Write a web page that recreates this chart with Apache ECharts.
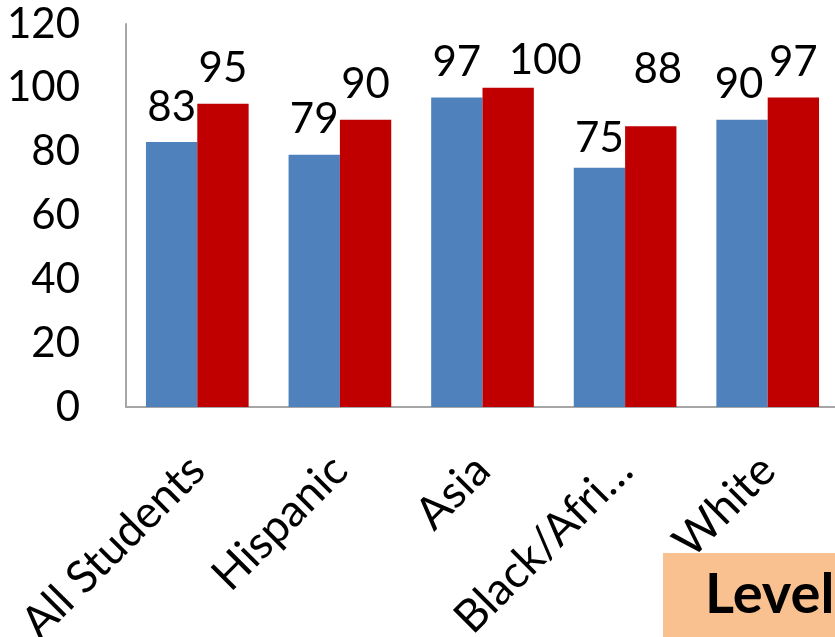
<!DOCTYPE html>
<html>
<head>
<meta charset="utf-8">
<script src="https://cdn.jsdelivr.net/npm/echarts@6/dist/echarts.min.js"></script>
<style>
html,body{margin:0;padding:0;background:#fff;}
#chart{width:835px;height:637px;}
</style>
</head>
<body>
<div id="chart"></div>
<script>
const categories = ['All Students', 'Hispanic', 'Asia', 'Black/Afri…', 'White'];
const seriesA = [83, 79, 97, 75, 90];
const seriesB = [95, 90, 100, 88, 97];
const yTicks = [0, 20, 40, 60, 80, 100, 120];

// manual label nudges (as in the original chart) [dx, dy]
const nudgeA = [[0,0],[0,0],[0,0],[0,6],[-3,0]];
const nudgeB = [[0,0],[0,0],[37,8],[7,-22],[0,0]];

const FONT = 'Lato';
const chart = echarts.init(document.getElementById('chart'), null, {renderer:'canvas'});

function mk(vals, nudges) {
  return vals.map((v, i) => ({ value: v, label: { offset: nudges[i] } }));
}

const labelStyle = { show: true, position: 'top', distance: 14, color: '#000', fontFamily: FONT, fontSize: 42 };

chart.setOption({
  animation: false,
  grid: { left: 126, right: -4, top: 24, bottom: 230, containLabel: false, outerBoundsMode: 'none' },
  xAxis: {
    type: 'category',
    data: categories,
    axisLine: { show: true, lineStyle: { color: '#A6A6A6', width: 2 } },
    axisTick: { show: false },
    axisLabel: { rotate: 45, margin: 56, color: '#000', fontFamily: FONT, fontSize: 45, interval: 0 }
  },
  yAxis: {
    type: 'value',
    min: yTicks[0], max: yTicks[yTicks.length - 1], interval: 20,
    axisLine: { show: true, lineStyle: { color: '#A6A6A6', width: 2 } },
    axisTick: { show: false },
    splitLine: { show: false },
    axisLabel: { margin: 46, color: '#000', fontFamily: FONT, fontSize: 42 }
  },
  series: [
    { type: 'bar', data: mk(seriesA, nudgeA), barGap: '0%', barCategoryGap: '28%',
      itemStyle: { color: '#4F81BD' }, label: labelStyle },
    { type: 'bar', data: mk(seriesB, nudgeB), barGap: '0%', barCategoryGap: '28%',
      itemStyle: { color: '#C00000' }, label: labelStyle }
  ],
  graphic: [
    { type: 'rect', left: 663, top: 553, shape: { width: 180, height: 90 }, style: { fill: '#F9C190' }, z: 10 },
    { type: 'text', left: 705, top: 567, style: { text: 'Level', fontFamily: FONT, fontWeight: 'bold', fontSize: 56, fill: '#000' }, z: 11 }
  ]
});
</script>
</body>
</html>
